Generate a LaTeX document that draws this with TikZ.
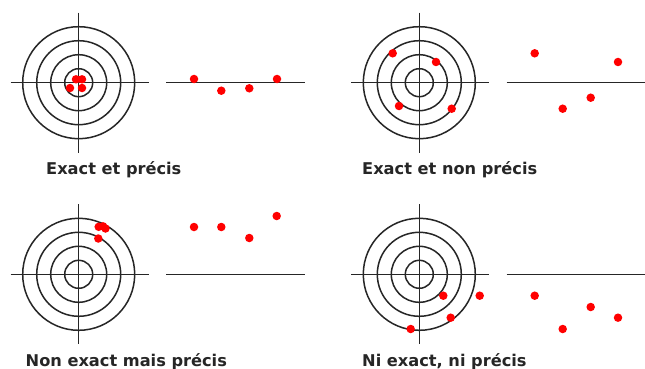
\documentclass[tikz,border=0pt]{standalone}
\usepackage{fontspec}
\newfontfamily\labelfont{DejaVu Sans}[BoldFont={DejaVu Sans Bold}]
\begin{document}
\begin{tikzpicture}[x=1pt,y=-1pt,
  ink/.style={draw=black!85, line width=1.5pt},
  hit/.style={circle, fill=red, inner sep=0pt, minimum size=8.5pt},
  caption/.style={anchor=base west, inner sep=0pt, text=black!85,
    font=\labelfont\bfseries\fontsize{16.2}{19}\selectfont},
  target/.pic={
    \foreach \r in {14,28,42,56} \draw[ink] (0,0) circle[radius=\r];
    \draw[ink] (-68,0) -- (70,0);
    \draw[ink] (0,-70) -- (0,70);
  }]
\useasboundingbox (0,0) rectangle (645,369);
\fill[white] (0,0) rectangle (645,369);

% Exact et precis
\pic at (78.7,82.7) {target};
\draw[ink] (166,82.7) coordinate (l1a) -- (305,82.7) coordinate (l1b);
\foreach \p/\q [count=\i] in {76/79.3, 82/79.3, 70/88, 82/88}
  \node[hit] (a\i) at (\p,\q) {};
\foreach \p/\q [count=\i] in {194/79, 221.3/90.7, 249.3/88.3, 277/79}
  \node[hit] (b\i) at (\p,\q) {};
\node[caption] (c1) at (46,174) {Exact et précis};

% Exact et non precis
\pic at (419.3,82.7) {target};
\draw[ink] (506.7,82.7) coordinate (l2a) -- (645,82.7) coordinate (l2b);
\foreach \p/\q [count=\i] in {392.7/53.3, 436/62, 399/106, 451.7/108.7}
  \node[hit] (d\i) at (\p,\q) {};
\foreach \p/\q [count=\i] in {534.7/53.3, 618/62, 562.7/108.7, 590.7/97.7}
  \node[hit] (e\i) at (\p,\q) {};
\node[caption] (c2) at (362,174) {Exact et non précis};

% Non exact mais precis
\pic at (78.7,274.3) {target};
\draw[ink] (166,274.3) coordinate (l3a) -- (305,274.3) coordinate (l3b);
\foreach \p/\q [count=\i] in {98.7/226.8, 103/226.3, 105.5/228.5, 98.3/238.5}
  \node[hit] (f\i) at (\p,\q) {};
\foreach \p/\q [count=\i] in {194/227, 221.3/227, 249.3/238, 276.7/216}
  \node[hit] (g\i) at (\p,\q) {};
\node[caption] (c3) at (25.5,366) {Non exact mais précis};

% Ni exact, ni precis
\pic at (419.3,274.3) {target};
\draw[ink] (506.7,274.3) coordinate (l4a) -- (645,274.3) coordinate (l4b);
\foreach \p/\q [count=\i] in {443.3/295.7, 479.7/295.7, 450.7/317.7, 410.7/329}
  \node[hit] (h\i) at (\p,\q) {};
\foreach \p/\q [count=\i] in {534.7/295.7, 562.7/329, 590.7/307, 618/317.7}
  \node[hit] (k\i) at (\p,\q) {};
\node[caption] (c4) at (362,366) {Ni exact, ni précis};
\end{tikzpicture}
\end{document}
